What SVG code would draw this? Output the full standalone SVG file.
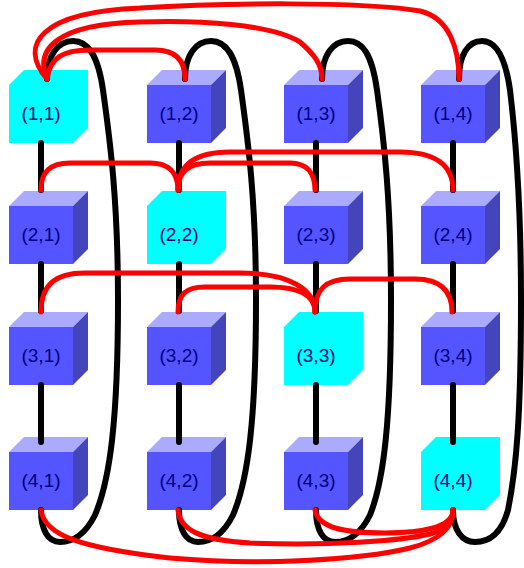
<svg xmlns="http://www.w3.org/2000/svg" xmlns:xlink="http://www.w3.org/1999/xlink" width="524" height="568" viewBox="0 0 524 568">
<style>
.front{fill:#5555FF}
.top{fill:#AAAAFF}
.side{fill:#4444BB}
.diag{fill:#00FFFF}
.lbl{font-family:"Liberation Sans",Arial,sans-serif;font-size:19px;fill:#000080;text-anchor:middle}
.blk{fill:none;stroke:#000000;stroke-width:6;stroke-linecap:round}
.red{fill:none;stroke:#FF0000;stroke-width:5;stroke-linecap:round}
</style>
<defs>
<g id="cube">
<rect class="front" x="0" y="15" width="64" height="58"/>
<polygon class="top" points="0,15 15,0 79,0 64,15"/>
<polygon class="side" points="64,15 79,0 79,58 64,73"/>
</g>
<polygon id="dcube" class="diag" points="0,15 15,0 79,0 79,58 64,73 0,73"/>
</defs>
<g id="nodes">
<g id="n11" transform="translate(9,70)"><use xlink:href="#dcube"/><text class="lbl" x="32" y="50">(1,1)</text></g>
<g id="n12" transform="translate(147,70)"><use xlink:href="#cube"/><text class="lbl" x="32" y="50">(1,2)</text></g>
<g id="n13" transform="translate(284,70)"><use xlink:href="#cube"/><text class="lbl" x="32" y="50">(1,3)</text></g>
<g id="n14" transform="translate(421,70)"><use xlink:href="#cube"/><text class="lbl" x="32" y="50">(1,4)</text></g>
<g id="n21" transform="translate(9,191)"><use xlink:href="#cube"/><text class="lbl" x="32" y="50">(2,1)</text></g>
<g id="n22" transform="translate(147,191)"><use xlink:href="#dcube"/><text class="lbl" x="32" y="50">(2,2)</text></g>
<g id="n23" transform="translate(284,191)"><use xlink:href="#cube"/><text class="lbl" x="32" y="50">(2,3)</text></g>
<g id="n24" transform="translate(421,191)"><use xlink:href="#cube"/><text class="lbl" x="32" y="50">(2,4)</text></g>
<g id="n31" transform="translate(9,312)"><use xlink:href="#cube"/><text class="lbl" x="32" y="50">(3,1)</text></g>
<g id="n32" transform="translate(147,312)"><use xlink:href="#cube"/><text class="lbl" x="32" y="50">(3,2)</text></g>
<g id="n33" transform="translate(284,312)"><use xlink:href="#dcube"/><text class="lbl" x="32" y="50">(3,3)</text></g>
<g id="n34" transform="translate(421,312)"><use xlink:href="#cube"/><text class="lbl" x="32" y="50">(3,4)</text></g>
<g id="n41" transform="translate(9,437)"><use xlink:href="#cube"/><text class="lbl" x="32" y="50">(4,1)</text></g>
<g id="n42" transform="translate(147,437)"><use xlink:href="#cube"/><text class="lbl" x="32" y="50">(4,2)</text></g>
<g id="n43" transform="translate(284,437)"><use xlink:href="#cube"/><text class="lbl" x="32" y="50">(4,3)</text></g>
<g id="n44" transform="translate(421,437)"><use xlink:href="#dcube"/><text class="lbl" x="32" y="50">(4,4)</text></g>
</g>
<g id="connectors">
<g id="black-links">
<path class="blk" d="M41,143 V190 M41,264 V311 M41,385 V442"/>
<path class="blk" d="M179,143 V190 M179,264 V311 M179,385 V442"/>
<path class="blk" d="M316,143 V190 M316,264 V311 M316,385 V442"/>
<path class="blk" d="M453,143 V190 M453,264 V311 M453,385 V442"/>
<path class="blk" d="M47,79 C47,55 58,41 73,41 C88,41 98,55 103,90 C110,140 118,200 118,300 C118,420 110,480 95,515 C85,535 72,542 60,542 C48,542 41,530 41,510"/>
<path class="blk" d="M185,79 C185,55 196,41 211,41 C226,41 236,55 241,90 C248,140 256,200 256,300 C256,420 248,480 233,515 C223,535 210,542 198,542 C186,542 179,530 179,510"/>
<path class="blk" d="M322,79 C322,55 333,41 348,41 C363,41 372,55 377,90 C384,140 391,200 391,300 C391,420 384,480 370,515 C360,535 347,542 335,542 C323,542 316,530 316,510"/>
<path class="blk" d="M459,79 C459,55 468,41 482,41 C495,41 505,55 510,90 C516,140 521,200 521,300 C521,420 516,470 508,510 C502,532 490,542 475,542 C462,542 453,530 453,510"/>
</g>
<g id="red-links">
<path class="red" d="M47,79 C18,45 40,12 140,8 C220,3 360,1 420,11 C450,18 459,50 459,79"/>
<path class="red" d="M47,79 C35,50 55,24 140,22 C200,20 270,24 300,42 C315,55 322,65 322,79"/>
<path class="red" d="M47,79 C50,58 62,50 90,50 L155,50 C175,50 185,60 185,79"/>
<path class="red" d="M41,190 C41,172 50,163 70,163 L150,163 C168,163 178,172 178,190"/>
<path class="red" d="M178,190 C178,172 188,163 210,163 L290,163 C306,163 315,172 315,190"/>
<path class="red" d="M178,190 C178,165 195,152 230,152 L400,152 C435,152 453,165 453,190"/>
<path class="red" d="M41,312 C41,285 55,273 85,273 L240,273 C290,273 315,290 315,312"/>
<path class="red" d="M178,312 C178,295 185,287 205,287 L270,287 C298,287 315,295 315,312"/>
<path class="red" d="M315,312 C315,290 325,279 350,279 L415,279 C440,279 452,290 452,312"/>
<path class="red" d="M41,510 C44,535 80,548 170,558 C260,566 360,560 410,548 C440,540 453,528 453,510"/>
<path class="red" d="M178,510 C180,530 200,540 250,543 C330,546 400,541 430,534 C445,530 453,522 453,510"/>
<path class="red" d="M315,510 C318,528 345,533 385,533 C420,533 453,528 453,510"/>
</g>
</g>
</svg>
